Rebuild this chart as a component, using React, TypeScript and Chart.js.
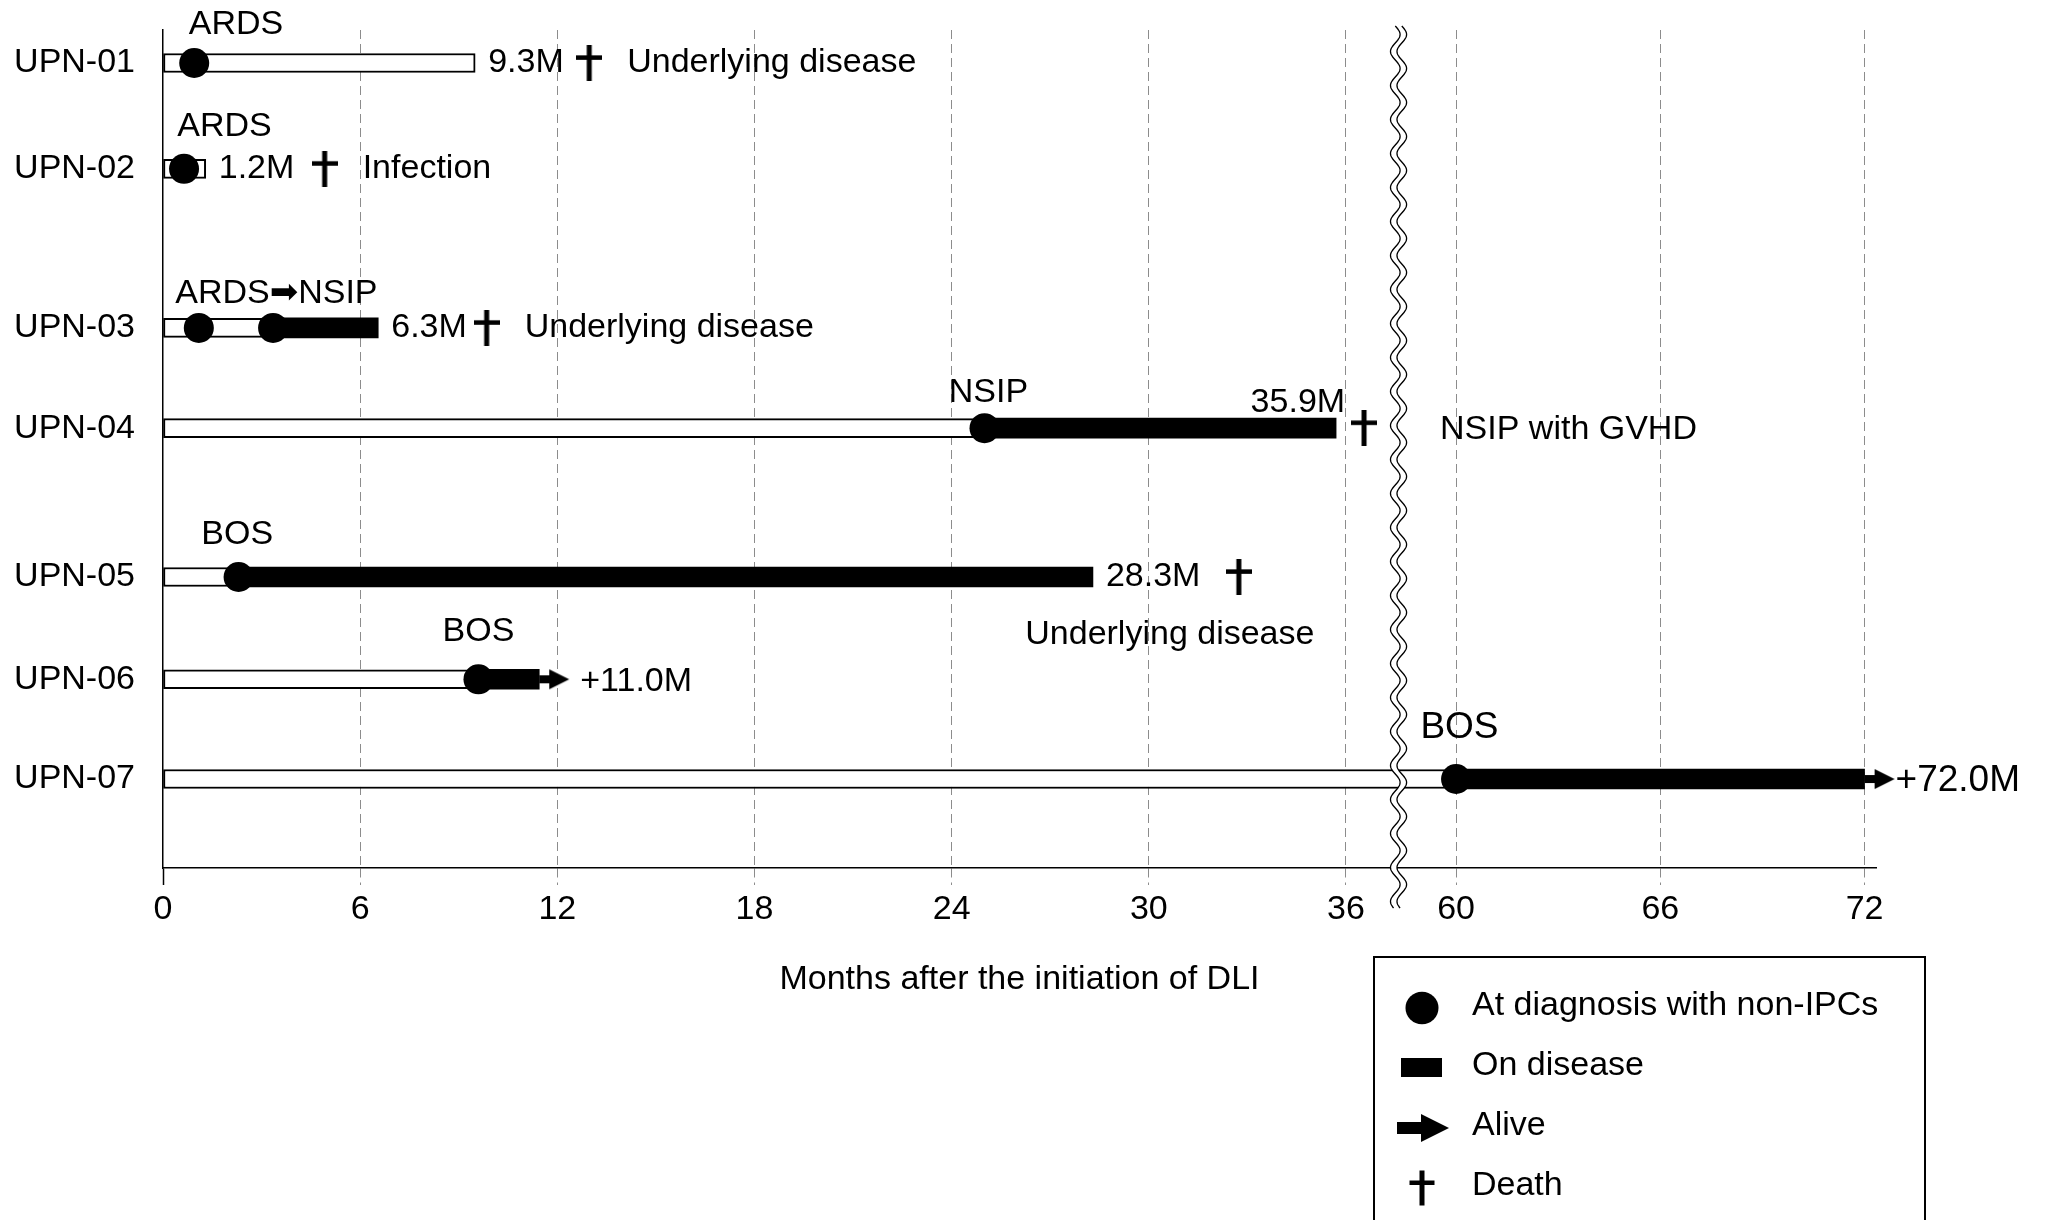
import React, { useEffect, useRef } from "react";
import { Chart, registerables } from "chart.js";

Chart.register(...registerables);

// ---------------- data ----------------
const patients = ["UPN-01", "UPN-02", "UPN-03", "UPN-04", "UPN-05", "UPN-06", "UPN-07"];
// vertical position of each swimmer lane (rows are grouped with gaps)
const rowPositions = [0, 2.07, 5.18, 7.14, 10.05, 12.05, 14];
// end of each bar (months after DLI), as drawn
const followUpMonths = [9.5, 1.3, 6.55, 35.7, 28.3, 11.45, 72.0];
// start of the "on disease" (black) segment
const diseaseStartMonths: (number | null)[] = [null, null, 3.35, 25.0, 2.3, 9.6, 60.0];
// diagnosis events with non-IPCs (black dots)
const diagnosisMonths = [[0.95], [0.64], [1.09, 3.35], [25.0], [2.3], [9.6], [60.0]];
// death markers (dagger)
const deathMarkMonths: (number | null)[] = [12.97, 4.92, 9.85, 36.55, 32.74, null, null];
const aliveAtEnd = [false, false, false, false, false, true, true];
const endLabels = ["9.3M", "1.2M", "6.3M", "35.9M", "28.3M", "+11.0M", "+72.0M"];
const causeOfDeath = ["Underlying disease", "Infection", "Underlying disease", "NSIP with GVHD", "Underlying disease", "", ""];
const eventLabels = ["ARDS", "ARDS", "ARDS\u27A1NSIP", "NSIP", "BOS", "BOS", "BOS"];
const eventLabelMonths = [2.22, 1.87, 3.45, 25.12, 2.26, 9.6, 60.1];
const endLabelPlacement = ["after", "after", "after", "above", "after", "after", "after"];
const causePlacement = ["after", "after", "after", "afterBreak", "below", "", ""];
const xTickMonths = [0, 6, 12, 18, 24, 30, 36, 60, 66, 72];
const legendLabels = ["At diagnosis with non-IPCs", "On disease", "Alive", "Death"];
const xAxisTitle = "Months after the initiation of DLI";

// ---------------- broken axis mapping ----------------
const BREAK_END = 60;
const RESUME_AXIS = 39.35;
const RIGHT_STRETCH = 1.036;
const BREAK_AXIS = 37.6;
const X_MAX = 52.13;
const toAxis = (m: number) => (m >= BREAK_END ? RESUME_AXIS + (m - BREAK_END) * RIGHT_STRETCH : m);

const FONT = '"Liberation Sans", Arial, "DejaVu Sans", sans-serif';
const FS = 34;
const FS_BIG = 37;
// how far (px) each event label sits above its lane
const LABEL_RISE = [38, 42, 34, 36, 42, 48, 51];

function makeDagger(w = 26, h = 36, stem = 5, bar = 4.5, barY = 0.35) {
  const c = document.createElement("canvas");
  c.width = w;
  c.height = h;
  const g = c.getContext("2d")!;
  g.fillStyle = "#000";
  g.fillRect((w - stem) / 2, 0, stem, h);
  g.fillRect(0, h * barY - bar / 2, w, bar);
  return c;
}

function makeArrow() {
  const L = 32;
  const h = 22;
  const c = document.createElement("canvas");
  c.width = L * 2;
  c.height = h;
  const g = c.getContext("2d")!;
  g.fillStyle = "#000";
  g.fillRect(L, h / 2 - 4, 11, 8);
  g.beginPath();
  g.moveTo(L + 10, h / 2 - 10);
  g.lineTo(L + 30, h / 2);
  g.lineTo(L + 10, h / 2 + 10);
  g.closePath();
  g.fill();
  return c;
}

function drawDaggerAt(ctx: CanvasRenderingContext2D, cx: number, cy: number, w = 25, h = 35) {
  ctx.fillRect(cx - 2.5, cy - h / 2, 5, h);
  ctx.fillRect(cx - w / 2, cy - h / 2 + h * 0.35 - 2.25, w, 4.5);
}

const swimmerPlugin = {
  id: "swimmerAnnotations",
  afterDatasetsDraw(chart: any) {
    const { ctx, chartArea } = chart;
    const xs = chart.scales.x;
    const cx = xs.getPixelForValue(BREAK_AXIS);
    const top = chartArea.top - 4;
    const bottom = chartArea.bottom + 40;
    const A = 4.8;
    const P = 34;
    const gap = 6.5;
    const wx = (y: number, off: number) => cx + off + A * Math.sin(((y - top) / P) * Math.PI * 2);
    ctx.save();
    ctx.beginPath();
    for (let y = top; y <= bottom; y += 1) ctx.lineTo(wx(y, -gap / 2), y);
    for (let y = bottom; y >= top; y -= 1) ctx.lineTo(wx(y, gap / 2), y);
    ctx.closePath();
    ctx.fillStyle = "#fff";
    ctx.fill();
    ctx.strokeStyle = "#000";
    ctx.lineWidth = 1.3;
    [-gap / 2, gap / 2].forEach((off) => {
      ctx.beginPath();
      for (let y = top; y <= bottom; y += 1) ctx.lineTo(wx(y, off), y);
      ctx.stroke();
    });
    ctx.restore();
  },
  afterDraw(chart: any) {
    const { ctx } = chart;
    const xs = chart.scales.x;
    const ys = chart.scales.y;
    ctx.save();
    ctx.fillStyle = "#000";
    ctx.textBaseline = "middle";
    patients.forEach((_, i) => {
      const y = ys.getPixelForValue(rowPositions[i]);
      const big = i === patients.length - 1;
      ctx.font = `${big ? FS_BIG : FS}px ${FONT}`;
      // event label above the dot
      ctx.textAlign = "center";
      ctx.fillText(eventLabels[i], xs.getPixelForValue(toAxis(eventLabelMonths[i])), y - LABEL_RISE[i]);
      // end label
      const endPx = xs.getPixelForValue(toAxis(followUpMonths[i]));
      if (aliveAtEnd[i]) {
        ctx.textAlign = "left";
        ctx.fillText(endLabels[i], endPx + (big ? 31 : 41), y + 2);
      } else if (endLabelPlacement[i] === "above") {
        ctx.textAlign = "right";
        ctx.textBaseline = "alphabetic";
        ctx.fillText(endLabels[i], endPx + 9, y - 16);
        ctx.textBaseline = "middle";
      } else {
        ctx.textAlign = "left";
        ctx.fillText(endLabels[i], endPx + 13, y);
      }
      // cause of death
      const d = deathMarkMonths[i];
      if (d != null && causeOfDeath[i]) {
        const dPx = xs.getPixelForValue(toAxis(d));
        if (causePlacement[i] === "below") {
          ctx.textAlign = "center";
          ctx.fillText(causeOfDeath[i], dPx - 69, y + 58);
        } else if (causePlacement[i] === "afterBreak") {
          ctx.textAlign = "left";
          ctx.fillText(causeOfDeath[i], dPx + 76, y + 1);
        } else {
          ctx.textAlign = "left";
          ctx.fillText(causeOfDeath[i], dPx + 38, y);
        }
      }
    });

    // legend box
    ctx.lineWidth = 2;
    ctx.strokeStyle = "#000";
    ctx.strokeRect(1374, 957, 551, 330);
    const sx = 1422;
    const rows = [1006, 1066, 1126, 1186];
    ctx.beginPath();
    ctx.ellipse(sx, 1008, 16.5, 16.2, 0, 0, Math.PI * 2);
    ctx.fill();
    ctx.fillRect(1401, 1058, 41, 19);
    ctx.fillRect(1397, 1122, 26, 12);
    ctx.beginPath();
    ctx.moveTo(1421, 1114);
    ctx.lineTo(1449, 1128);
    ctx.lineTo(1421, 1142);
    ctx.closePath();
    ctx.fill();
    drawDaggerAt(ctx, sx, 1188);
    ctx.font = `${FS}px ${FONT}`;
    ctx.textAlign = "left";
    ctx.textBaseline = "middle";
    legendLabels.forEach((t, k) => ctx.fillText(t, 1472, rows[k]));
    ctx.restore();
  },
};

export default function App() {
  const ref = useRef<HTMLCanvasElement>(null);
  useEffect(() => {
    document.body.style.margin = "0";
    const canvas = ref.current!;
    const dagger = makeDagger();
    const arrow = makeArrow();

    const whiteBars = patients.map((_, i) => ({
      x: [0, toAxis(diseaseStartMonths[i] ?? followUpMonths[i])],
      y: rowPositions[i],
    }));
    const blackBars = patients
      .map((_, i) =>
        diseaseStartMonths[i] == null
          ? null
          : { x: [toAxis(diseaseStartMonths[i] as number), toAxis(followUpMonths[i])], y: rowPositions[i] }
      )
      .filter(Boolean);
    const dots = diagnosisMonths.flatMap((arr, i) => arr.map((m) => ({ x: toAxis(m), y: rowPositions[i] })));
    const arrows = patients
      .map((_, i) => (aliveAtEnd[i] ? { x: toAxis(followUpMonths[i]), y: rowPositions[i] } : null))
      .filter(Boolean);
    const daggers = deathMarkMonths
      .map((d, i) => (d == null ? null : { x: toAxis(d), y: rowPositions[i] }))
      .filter(Boolean);

    const font = { family: FONT, size: FS };
    const isZero = (c: any) => c.tick && c.tick.value === 0;

    const chart = new Chart(canvas, {
      type: "scatter",
      data: {
        datasets: [
          {
            type: "bar",
            label: "Before disease",
            indexAxis: "y",
            data: whiteBars as any,
            backgroundColor: "#fff",
            borderColor: "#000",
            borderWidth: 2,
            borderSkipped: false,
            barThickness: 19,
            grouped: false,
            order: 5,
          } as any,
          {
            type: "bar",
            label: "On disease",
            indexAxis: "y",
            data: blackBars as any,
            backgroundColor: "#000",
            borderWidth: 0,
            barThickness: 20,
            grouped: false,
            order: 4,
          } as any,
          {
            label: "At diagnosis with non-IPCs",
            data: dots,
            pointStyle: "circle",
            pointRadius: 15,
            pointHoverRadius: 15,
            backgroundColor: "#000",
            borderWidth: 0,
            order: 3,
          } as any,
          {
            label: "Alive",
            data: arrows as any,
            pointStyle: arrow,
            pointRadius: 12,
            pointHoverRadius: 12,
            clip: false,
            order: 2,
          } as any,
          {
            label: "Death",
            data: daggers as any,
            pointStyle: dagger,
            pointRadius: 12,
            pointHoverRadius: 12,
            clip: false,
            order: 1,
          } as any,
        ],
      },
      options: {
        animation: false,
        responsive: false,
        devicePixelRatio: 1,
        events: [],
        layout: { padding: { top: 30, right: 170, left: 0, bottom: 0 } },
        plugins: { legend: { display: false }, tooltip: { enabled: false }, title: { display: false } },
        scales: {
          x: {
            type: "linear",
            min: 0,
            max: X_MAX,
            offset: false,
            afterBuildTicks: (s: any) => {
              s.ticks = xTickMonths.map((m) => ({ value: toAxis(m) }));
            },
            afterFit: (s: any) => {
              s.height = 352;
            },
            ticks: {
              callback: (_v: any, i: number) => String(xTickMonths[i]),
              font,
              color: "#000",
              padding: 4,
              maxRotation: 0,
              autoSkip: false,
            },
            grid: {
              offset: false,
              color: (c: any) => (isZero(c) ? "rgba(0,0,0,0)" : "#8c8c8c"),
              lineWidth: 1,
              drawTicks: true,
              tickLength: 17,
              tickWidth: (c: any) => (isZero(c) ? 1.5 : 1),
              tickColor: (c: any) => (isZero(c) ? "#000" : "#8c8c8c"),
              tickBorderDash: (c: any) => (isZero(c) ? [] : [9, 5]),
            },
            border: { display: true, color: "#000", width: 1.5, dash: [9, 5] },
            title: {
              display: true,
              text: xAxisTitle,
              font,
              color: "#000",
              padding: { top: 0, bottom: 220 },
            },
          } as any,
          y: {
            type: "linear",
            reverse: true,
            min: -0.645,
            max: 15.74,
            offset: false,
            afterBuildTicks: (s: any) => {
              s.ticks = rowPositions.map((v) => ({ value: v }));
            },
            afterFit: (s: any) => {
              s.width = 163;
              s.paddingTop = 0;
              s.paddingBottom = 0;
            },
            ticks: {
              callback: (_v: any, i: number) => patients[i],
              font,
              color: "#000",
              padding: 28,
              autoSkip: false,
            },
            grid: { display: false, drawTicks: false },
            border: { display: true, color: "#000", width: 1.5 },
          } as any,
        },
      },
      plugins: [swimmerPlugin],
    });
    return () => chart.destroy();
  }, []);

  return (
    <div style={{ width: 2046, height: 1220 }}>
      <canvas ref={ref} width={2046} height={1220} style={{ display: "block", width: 2046, height: 1220 }} />
    </div>
  );
}
